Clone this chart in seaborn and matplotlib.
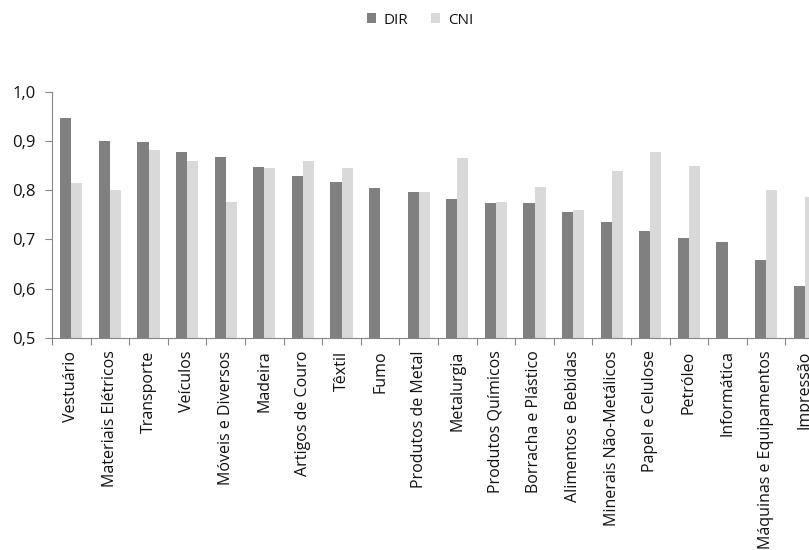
import numpy as np
import pandas as pd
import matplotlib
matplotlib.use("Agg")
import matplotlib.pyplot as plt
import seaborn as sns
from matplotlib.ticker import FuncFormatter

setores = ["Vestuário", "Materiais Elétricos", "Transporte", "Veículos",
           "Móveis e Diversos", "Madeira", "Artigos de Couro", "Têxtil", "Fumo",
           "Produtos de Metal", "Metalurgia", "Produtos Químicos",
           "Borracha e Plástico", "Alimentos e Bebidas", "Minerais Não-Metálicos",
           "Papel e Celulose", "Petróleo", "Informática",
           "Máquinas e Equipamentos", "Impressão"]
dir_vals = [0.946, 0.900, 0.898, 0.878, 0.868, 0.848, 0.828, 0.816, 0.805,
            0.796, 0.782, 0.774, 0.774, 0.755, 0.736, 0.718, 0.703, 0.695,
            0.659, 0.605]
cni_vals = [0.814, 0.800, 0.882, 0.860, 0.776, 0.845, 0.860, 0.845, np.nan,
            0.796, 0.866, 0.776, 0.807, 0.760, 0.839, 0.878, 0.849, np.nan,
            0.801, 0.787]
series = ["DIR", "CNI"]
colors = ["#808080", "#d9d9d9"]

df = pd.DataFrame({
    "Setor": setores * 2,
    "Valor": dir_vals + cni_vals,
    "Série": ["DIR"] * len(setores) + ["CNI"] * len(setores),
})

sns.set_style("white")
plt.rcParams["font.family"] = ["Open Sans", "DejaVu Sans"]

fig = plt.figure(figsize=(8.09, 5.5), dpi=100)
ax = fig.add_axes([52 / 809, 1 - 338 / 550, 772 / 809, (338 - 91.7) / 550])

sns.barplot(data=df, x="Setor", y="Valor", hue="Série", order=setores,
            hue_order=series, palette=colors, width=0.57, gap=0,
            edgecolor="none", linewidth=0, saturation=1, ax=ax, legend=True)

n = len(setores)
ax.set_xlim(-0.5, n - 0.5)
ax.set_ylim(0.5, 1.0)
ax.set_yticks([0.5, 0.6, 0.7, 0.8, 0.9, 1.0])
ax.yaxis.set_major_formatter(FuncFormatter(lambda v, p: f"{v:.1f}".replace(".", ",")))
ax.set_xlabel("")
ax.set_ylabel("")

ax.set_xticks(np.arange(-0.5, n, 1), minor=True)
ax.tick_params(axis="x", which="major", length=0, pad=9, labelsize=11.5,
               labelrotation=90, labelcolor="#111111")
ax.tick_params(axis="x", which="minor", length=5, width=0.8, color="#868686",
               direction="out", bottom=True)
ax.tick_params(axis="y", which="major", length=5, width=0.8, color="#868686",
               direction="out", left=True, labelsize=12, labelcolor="#111111", pad=7)

for s in ["top", "right"]:
    ax.spines[s].set_visible(False)
for s in ["left", "bottom"]:
    ax.spines[s].set_color("#868686")
    ax.spines[s].set_linewidth(0.8)

ax.grid(False)

handles, labels = ax.get_legend_handles_labels()
ax.get_legend().remove()
fig.legend(handles, labels, loc="center", bbox_to_anchor=(420 / 809, 1 - 20 / 550),
           ncol=2, frameon=False, fontsize=11, handlelength=0.6, handleheight=0.6,
           handletextpad=0.5, columnspacing=1.5, labelcolor="#111111")

fig.savefig("out.png", dpi=100)
